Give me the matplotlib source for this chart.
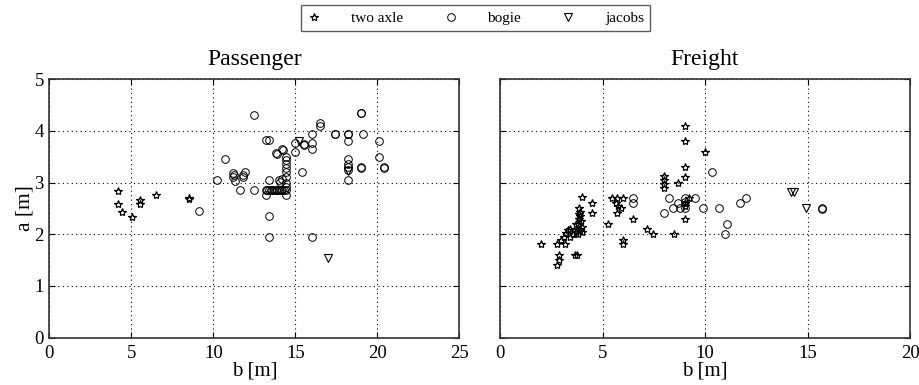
import numpy as np
import matplotlib.pyplot as plt
from matplotlib.lines import Line2D

plt.rcParams['font.family'] = ['Liberation Serif', 'DejaVu Serif']
plt.rcParams['font.size'] = 11

# Passenger vehicles
pass_axle_b = [4.21, 4.21, 4.43, 5.02, 5.53, 5.53, 6.5, 8.5, 8.5]
pass_axle_a = [2.83, 2.58, 2.44, 2.33, 2.66, 2.58, 2.77, 2.71, 2.69]

pass_bogie_b = [12.48, 9.1, 10.2, 10.69, 11.2, 11.2, 11.3, 11.25, 11.83, 11.93, 11.83, 11.6,
                12.48, 13.2, 13.4, 13.4, 13.4, 13.4,
                13.2, 13.3, 13.4, 13.5, 13.6, 13.7, 13.8, 13.9, 14.0, 14.1, 14.2, 14.3, 14.43,
                13.2, 13.82, 13.9, 14.2, 14.22, 14.43,
                14.43, 14.43, 14.43, 14.43, 14.43, 14.43, 14.43, 14.43,
                14.0, 14.17, 14.05, 14.98, 15.0, 15.5, 15.5, 15.4, 16.0, 16.0, 16.0, 16.0,
                16.5, 16.5, 17.42, 17.42, 18.2, 18.2, 18.2, 18.2, 18.2, 18.2, 18.2, 18.2,
                19.0, 19.0, 19.1, 19.0, 19.0, 20.1, 20.1, 20.4, 20.4]
pass_bogie_a = [4.30, 2.45, 3.05, 3.45, 3.18, 3.10, 3.04, 3.14, 3.15, 3.21, 3.10, 2.85,
                2.85, 3.83, 3.83, 3.05, 2.35, 1.95,
                2.85, 2.85, 2.85, 2.85, 2.85, 2.85, 2.85, 2.85, 2.85, 2.85, 2.85, 2.85, 2.85,
                2.77, 3.58, 3.56, 3.65, 3.63, 3.5,
                2.77, 2.92, 3.0, 3.1, 3.2, 3.28, 3.36, 3.44,
                3.05, 3.08, 3.02, 3.6, 3.76, 3.75, 3.73, 3.2, 3.95, 3.76, 3.66, 1.95,
                4.15, 4.1, 3.95, 3.94, 3.95, 3.94, 3.8, 3.46, 3.37, 3.3, 3.25, 3.05,
                4.35, 4.34, 3.95, 3.3, 3.29, 3.8, 3.5, 3.3, 3.29]

pass_jacobs_b = [15.24, 18.2, 17.0]
pass_jacobs_a = [3.8, 3.22, 1.55]

# Freight vehicles
frt_axle_b = [2.0, 2.76, 3.19, 2.8, 2.86, 2.9, 2.96, 3.1, 3.22, 3.4, 3.55, 3.4, 3.3,
              3.66, 3.74, 3.7, 3.75, 3.8, 3.85, 3.9, 3.95, 4.0, 3.8, 3.9, 4.0, 3.7, 3.85,
              3.87, 3.9, 4.0, 4.5, 4.47, 5.28, 5.45, 5.7, 6.0, 5.65, 5.77, 5.9, 5.7,
              6.0, 6.0, 6.47, 7.19, 7.48, 8.5, 8.0, 8.0, 8.0, 8.0, 8.7,
              9.0, 9.0, 9.0, 9.0, 9.0, 9.0, 9.0, 9.24, 10.0]
frt_axle_a = [1.81, 1.81, 1.81, 1.41, 1.5, 1.6, 1.89, 1.95, 2.02, 2.1, 2.0, 1.95, 2.08,
              1.6, 1.6, 2.05, 2.1, 2.2, 2.3, 2.35, 2.25, 2.15, 2.0, 2.1, 2.05, 2.2, 2.4,
              2.5, 2.44, 2.72, 2.6, 2.41, 2.2, 2.7, 2.7, 2.7, 2.6, 2.54, 2.5, 2.41,
              1.89, 1.81, 2.3, 2.1, 2.0, 2.0, 3.12, 3.05, 2.97, 2.89, 3.0,
              4.1, 3.8, 3.3, 3.1, 2.6, 2.54, 2.29, 2.71, 3.6]

frt_bogie_b = [6.47, 6.47, 8.0, 8.26, 8.46, 8.7, 8.78, 9.0, 9.0, 9.0, 9.51, 9.92,
               10.33, 10.68, 11.09, 10.99, 11.7, 11.98, 15.69, 15.69]
frt_bogie_a = [2.7, 2.6, 2.41, 2.71, 2.5, 2.6, 2.5, 2.71, 2.63, 2.5, 2.71, 2.5,
               3.2, 2.5, 2.2, 2.0, 2.6, 2.71, 2.5, 2.49]

frt_jacobs_b = [14.18, 14.34, 14.9]
frt_jacobs_a = [2.81, 2.81, 2.5]

fig = plt.figure(figsize=(9.2, 3.85), dpi=100)
ax1 = fig.add_axes([0.0536, 0.123, 0.4457, 0.671])
ax2 = fig.add_axes([0.5435, 0.123, 0.4457, 0.671])

star = dict(marker='*', ls='none', mfc='none', mec='black', ms=6, mew=0.9)
circ = dict(marker='o', ls='none', mfc='none', mec='black', ms=5.5, mew=0.7)
tri = dict(marker='v', ls='none', mfc='none', mec='black', ms=6, mew=0.8)

ax1.plot(pass_axle_b, pass_axle_a, **star)
ax1.plot(pass_bogie_b, pass_bogie_a, **circ)
ax1.plot(pass_jacobs_b, pass_jacobs_a, **tri)

ax2.plot(frt_axle_b, frt_axle_a, **star)
ax2.plot(frt_bogie_b, frt_bogie_a, **circ)
ax2.plot(frt_jacobs_b, frt_jacobs_a, **tri)

for ax, xmax, title in [(ax1, 25, 'Passenger'), (ax2, 20, 'Freight')]:
    ax.set_xlim(0, xmax)
    ax.set_ylim(0, 5)
    ax.set_xticks(np.arange(0, xmax + 1, 5))
    ax.set_yticks(np.arange(0, 6, 1))
    ax.grid(True, color='black', linestyle=(0, (1, 3)), linewidth=0.8)
    ax.tick_params(direction='in', top=True, right=True, length=4, labelsize=13.5)
    ax.tick_params(axis='x', pad=5)
    ax.tick_params(axis='y', pad=4)
    for sp in ax.spines.values():
        sp.set_linewidth(1.2)
        sp.set_color('#333333')
    ax.set_title(title, fontsize=17, pad=10)
    ax.set_xlabel('b [m]', fontsize=15, labelpad=0)

ax1.set_ylabel('a [m]', fontsize=15.5, labelpad=0)
ax2.set_yticklabels([])

handles = [Line2D([], [], **star), Line2D([], [], **circ), Line2D([], [], **tri)]
fig.legend(handles, ['two axle', 'bogie', 'jacobs'], loc='upper center',
           bbox_to_anchor=(0.5168, 1.0), ncol=3, fontsize=11, frameon=True,
           fancybox=False, edgecolor='#333333', columnspacing=2.6,
           handletextpad=1.9, borderpad=0.4, borderaxespad=0.35, handlelength=1.0)

fig.savefig('out.png', dpi=100)
